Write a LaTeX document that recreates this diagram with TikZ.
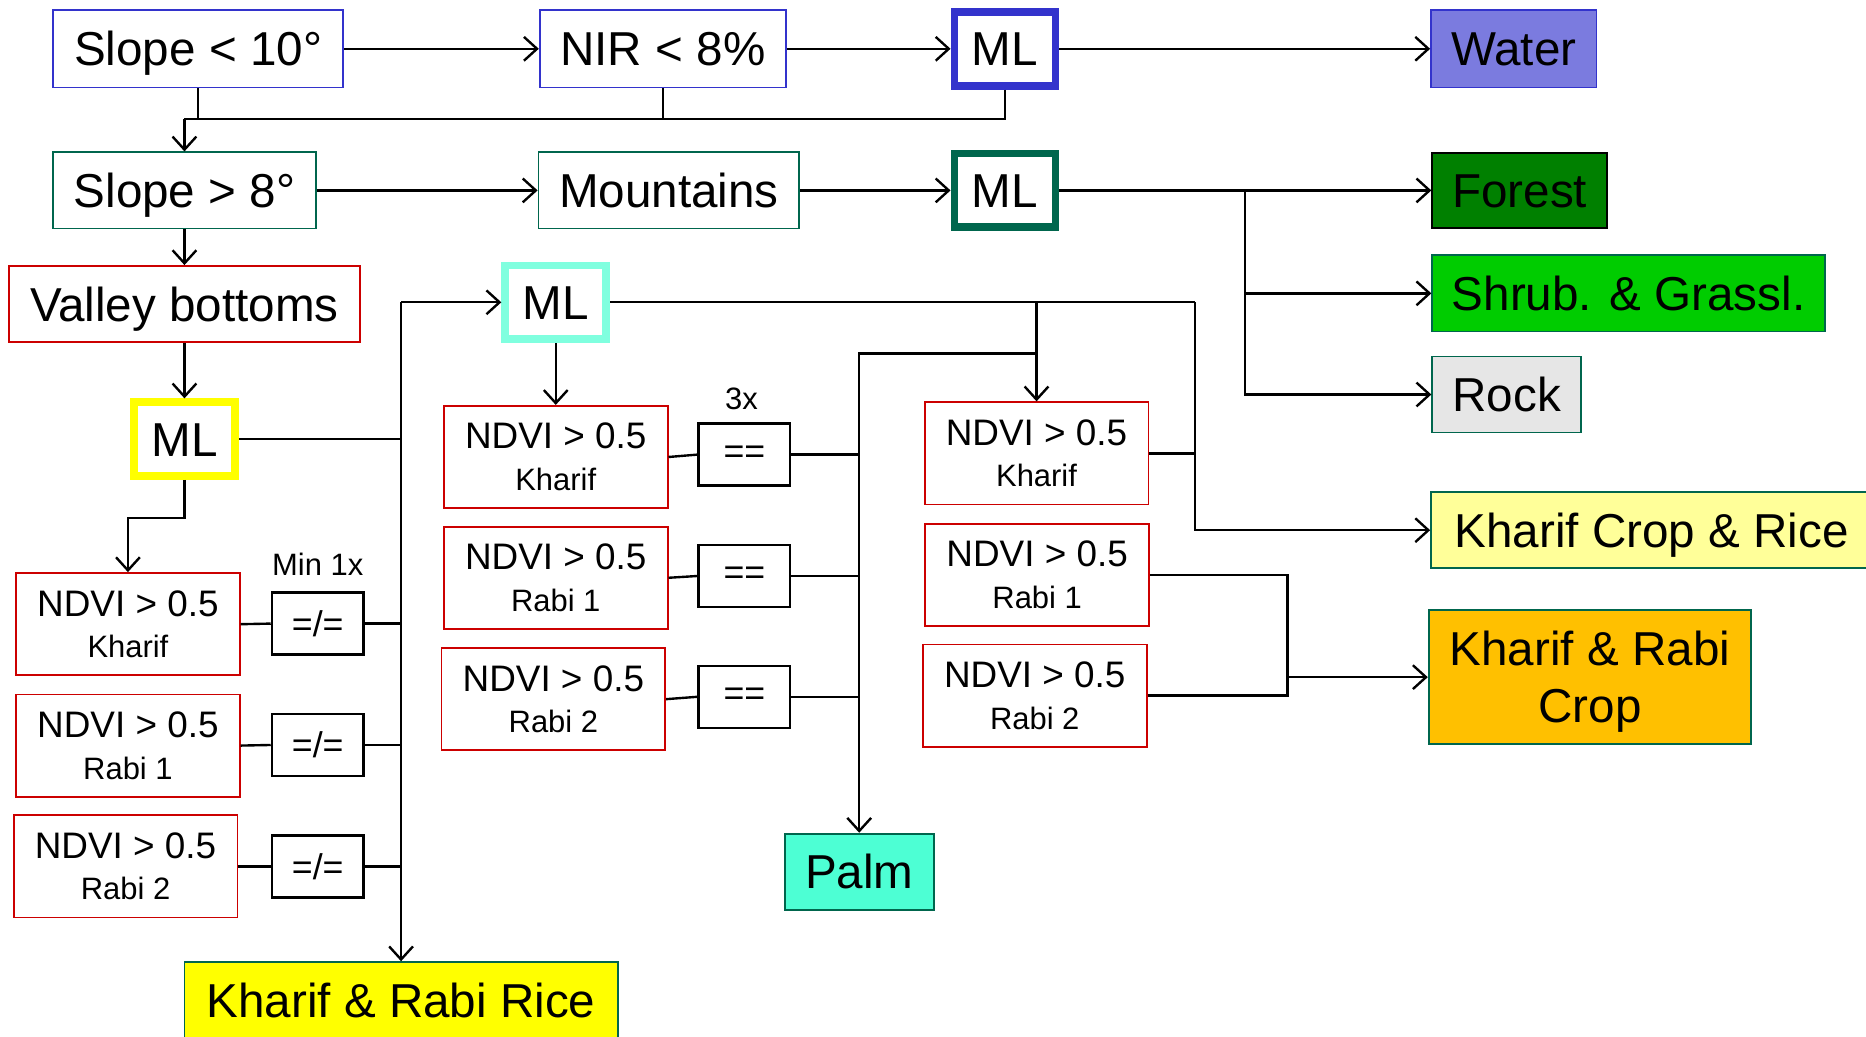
\documentclass[tikz,border=0pt]{standalone}
\usepackage{fontspec}
\setmainfont{Liberation Sans}
\usetikzlibrary{arrows.meta}

\definecolor{boxblue}{HTML}{3333CC}
\definecolor{waterfill}{HTML}{7B7BDF}
\definecolor{boxgreen}{HTML}{00664D}
\definecolor{forestfill}{HTML}{008000}
\definecolor{shrubfill}{HTML}{00CC00}
\definecolor{rockfill}{HTML}{E6E6E6}
\definecolor{boxred}{HTML}{CC0000}
\definecolor{mlyellow}{HTML}{FFFF00}
\definecolor{mlcyan}{HTML}{80FFDF}
\definecolor{palmfill}{HTML}{4DFFD4}
\definecolor{kcrfill}{HTML}{FFFF99}
\definecolor{krcfill}{HTML}{FFC000}

\newcommand{\ndvitext}[1]{{\fontsize{31}{31}\selectfont NDVI > 0.5}\\#1}

\begin{document}
\begin{tikzpicture}[x=1pt, y=-1pt,
  box/.style={draw, line width=1.5pt, inner sep=0pt, text height=28.6pt, text depth=0pt, font=\fontsize{40}{48}\selectfont},
  mlbox/.style={draw=#1, line width=6.5pt, inner sep=0pt, minimum width=85pt, minimum height=62pt, text height=28.6pt, text depth=0pt, font=\fontsize{40}{48}\selectfont},
  ndvibox/.style={draw=boxred, line width=1.5pt, inner sep=0pt, minimum width=188pt, minimum height=86pt, align=center, font=\fontsize{26}{35}\selectfont},
  eqbox/.style={draw, line width=2pt, inner sep=0pt, minimum width=77pt, minimum height=52pt, font=\fontsize{30}{36}\selectfont},
  countlabel/.style={inner sep=0pt, font=\fontsize{26}{30}\selectfont},
  link/.style={line width=2pt},
  arr/.style={link, -{Straight Barb[length=11pt,width=20pt]}}]
  \useasboundingbox (0,0) rectangle (1568,871);

  \node[box, draw=boxblue, minimum width=244pt, minimum height=65pt] (s10) at (166.5,41) {Slope < 10°};
  \node[box, draw=boxblue, minimum width=207pt, minimum height=65pt] (nir) at (557,41) {NIR < 8\%};
  \node[mlbox=boxblue] (mlA) at (844.5,41) {ML};
  \node[box, draw=boxblue, fill=waterfill, minimum width=139pt, minimum height=65pt] (water) at (1272,41) {Water};

  \node[box, draw=boxgreen, minimum width=221pt, minimum height=64pt] (s8) at (155,160) {Slope > 8°};
  \node[box, draw=boxgreen, minimum width=219pt, minimum height=64pt] (mount) at (562,160) {Mountains};
  \node[mlbox=boxgreen] (mlB) at (844.5,160) {ML};
  \node[box, draw=black, fill=forestfill, minimum width=147pt, minimum height=63pt] (forest) at (1277,160) {Forest};
  \node[box, draw=boxgreen, fill=shrubfill, minimum width=330pt, minimum height=64pt] (shrub) at (1368.5,246.5) {Shrub. \& Grassl.};
  \node[box, draw=boxgreen, fill=rockfill, minimum width=125pt, minimum height=64pt] (rock) at (1266,331.5) {Rock};

  \node[box, draw=boxred, minimum width=295pt, minimum height=64pt] (valley) at (155,255.5) {Valley bottoms};
  \node[mlbox=mlyellow] (mlY) at (155,369) {ML};
  \node[mlbox=mlcyan] (mlC) at (467,254) {ML};

  \node[ndvibox] (L1) at (107.5,524.5) {\ndvitext{Kharif}};
  \node[ndvibox] (L2) at (107.5,626.5) {\ndvitext{Rabi 1}};
  \node[ndvibox] (L3) at (105.5,728) {\ndvitext{Rabi 2}};
  \node[eqbox] (neq1) at (267,524) {=/=};
  \node[eqbox] (neq2) at (267,626) {=/=};
  \node[eqbox] (neq3) at (267,728) {=/=};
  \node[countlabel] (minx) at (267,474) {Min 1x};
  \node[box, draw=boxgreen, fill=mlyellow, minimum width=364pt, minimum height=65pt] (rice) at (337,841) {Kharif \& Rabi Rice};

  \node[ndvibox] (M1) at (467,384) {\ndvitext{Kharif}};
  \node[ndvibox] (M2) at (467,485.5) {\ndvitext{Rabi 1}};
  \node[ndvibox] (M3) at (465,587.5) {\ndvitext{Rabi 2}};
  \node[eqbox] (eq1) at (625.5,382) {==};
  \node[eqbox] (eq2) at (625.5,484) {==};
  \node[eqbox] (eq3) at (625.5,585.5) {==};
  \node[countlabel] (thrice) at (623,335) {3x};
  \node[box, draw=boxgreen, fill=palmfill, minimum width=125pt, minimum height=64pt] (palm) at (722,732.5) {Palm};

  \node[ndvibox] (R1) at (871,381) {\ndvitext{Kharif}};
  \node[ndvibox] (R2) at (871.5,483) {\ndvitext{Rabi 1}};
  \node[ndvibox] (R3) at (869.5,584.5) {\ndvitext{Rabi 2}};
  \node[box, draw=boxgreen, fill=kcrfill, minimum width=371pt, minimum height=64pt] (kcr) at (1388,445.5) {Kharif Crop \& Rice};
  \node[box, draw=boxgreen, fill=krcfill, minimum width=271pt, minimum height=113pt, align=center, text height=76.6pt] (krc) at (1336,569) {Kharif \& Rabi\\Crop};

  \draw[arr] (s10) -- (nir);
  \draw[arr] (nir) -- (mlA);
  \draw[arr] (mlA) -- (water);
  \coordinate (bus) at (155,100);
  \draw[link] (mlA.south) |- (bus);
  \draw[link] (nir.south) -- (nir.south |- bus);
  \draw[link] (s10.south) -- (s10.south |- bus);
  \draw[arr] (bus) -- (s8.north);

  \draw[arr] (s8) -- (mount);
  \draw[arr] (mount) -- (mlB);
  \draw[arr] (mlB) -- (forest);
  \coordinate (split) at (1046,160);
  \draw[arr] (split) |- (shrub.west);
  \draw[arr] (split) |- (rock.west);

  \draw[arr] (s8) -- (valley);
  \draw[arr] (valley) -- (mlY);
  \coordinate (riceBus) at (337,254);
  \draw[link] (mlY.east) -- (mlY.east -| riceBus);
  \draw[arr] (riceBus) -- (mlC);
  \draw[arr] (riceBus) -- (rice.north);
  \draw[arr] (mlY.south) -- ++(0,32) -| (L1.north);
  \foreach \i in {1,2,3} {
    \draw[link] (L\i.east) -- (neq\i.west);
    \draw[link] (neq\i.east) -- (neq\i.east -| riceBus);
  }

  \draw[arr] (mlC) -- (M1);
  \coordinate (palmBus) at (722,297);
  \foreach \i in {1,2,3} {
    \draw[link] (M\i.east) -- (eq\i.west);
    \draw[link] (eq\i.east) -- (eq\i.east -| palmBus);
  }
  \draw[arr] (palmBus -| R1.north) -- (palmBus) -- (palm.north);

  \coordinate (cropBus) at (1004,254);
  \draw[link] (mlC.east) -- (cropBus);
  \draw[arr] (mlC.east -| R1.north) -- (R1.north);
  \draw[arr] (cropBus) |- (kcr.west);
  \draw[link] (R1.east) -- (R1.east -| cropBus);
  \coordinate (rabiBus) at (1082,569);
  \draw[link] (R2.east) -| (rabiBus);
  \draw[link] (R3.east) -| (rabiBus);
  \draw[arr] (rabiBus) -- (krc.west);
\end{tikzpicture}
\end{document}
